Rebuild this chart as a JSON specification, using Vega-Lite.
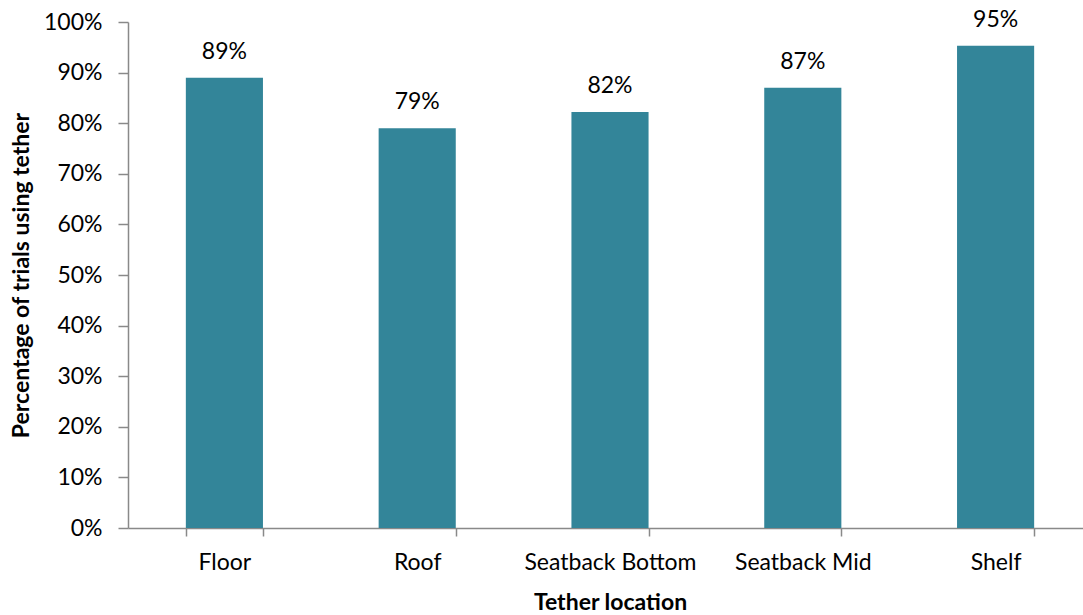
{
  "$schema": "https://vega.github.io/schema/vega-lite/v6.json",
  "autosize": {"type": "none"},
  "padding": {"left": 128, "top": 22, "right": 0, "bottom": 87},
  "width": 964,
  "height": 506,
  "background": "white",
  "config": {
    "view": {"stroke": null},
    "font": "Lato",
    "axis": {"labelFont": "Lato", "titleFont": "Lato", "labelColor": "#000000", "titleColor": "#000000", "domainColor": "#898989", "tickColor": "#898989", "domainWidth": 1.5, "tickWidth": 1.5, "grid": false}
  },
  "data": {
    "values": [
      {"location": "Floor", "pct": 0.89},
      {"location": "Roof", "pct": 0.79},
      {"location": "Seatback Bottom", "pct": 0.822},
      {"location": "Seatback Mid", "pct": 0.87},
      {"location": "Shelf", "pct": 0.953}
    ]
  },
  "encoding": {
    "x": {
      "field": "location", "type": "nominal", "sort": null,
      "scale": {"paddingInner": 0.6, "paddingOuter": 0.3},
      "axis": {"title": "Tether location", "labelAngle": 0, "labelFontSize": 23, "titleFontSize": 23, "titleFontWeight": "bold", "tickSize": 8, "tickBand": "extent", "labelPadding": 15, "titlePadding": 17}
    },
    "y": {
      "field": "pct", "type": "quantitative",
      "scale": {"domain": [0, 1], "nice": false},
      "axis": {"title": "Percentage of trials using tether", "format": ".0%", "values": [0, 0.1, 0.2, 0.3, 0.4, 0.5, 0.6, 0.7, 0.8, 0.9, 1], "labelFontSize": 23, "titleFontSize": 23, "titleFontWeight": "bold", "tickSize": 10, "labelPadding": 16, "titlePadding": 10}
    }
  },
  "layer": [
    {"mark": {"type": "bar", "color": "#338599"}},
    {"mark": {"type": "text", "baseline": "alphabetic", "dy": -19, "fontSize": 23, "color": "#000000"},
     "encoding": {"text": {"field": "pct", "type": "quantitative", "format": ".0%"}}}
  ]
}
